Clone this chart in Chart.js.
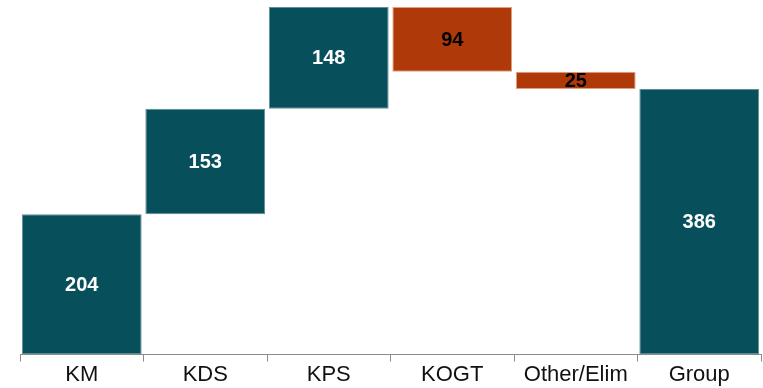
<!DOCTYPE html>
<html>
<head>
<meta charset="utf-8">
<script src="https://cdn.jsdelivr.net/npm/chart.js@4/dist/chart.umd.min.js"></script>
<style>
  html, body { margin: 0; padding: 0; background: #fff; }
  #wrap { width: 763px; height: 388px; }
</style>
</head>
<body>
<div id="wrap"><canvas id="myChart"></canvas></div>
<script>
// datos del puente
var categorias = ['KM', 'KDS', 'KPS', 'KOGT', 'Other/Elim', 'Group'];
var variaciones = [204, 153, 148, -94, -25];
var total = 386;

var colorPositivo = '#074f5b';
var colorNegativo = '#b0390a';

// tramos flotantes
var tramos = [];
var colores = [];
var bordes = [];
var acumulado = 0;
for (var i = 0; i < variaciones.length; i++) {
    var inicio = acumulado;
    acumulado += variaciones[i];
    tramos.push([Math.min(inicio, acumulado), Math.max(inicio, acumulado)]);
    colores.push(variaciones[i] >= 0 ? colorPositivo : colorNegativo);
    bordes.push(variaciones[i] >= 0 ? '#5f8f97' : '#e0a080');
}
tramos.push([0, total]);
colores.push(colorPositivo);
bordes.push('#5f8f97');

var etiquetas = variaciones.map(function(v){ return Math.abs(v); }).concat([total]);

var pluginEtiquetas = {
    id: 'etiquetas',
    afterDatasetsDraw: function(chart) {
        var ctx = chart.ctx;
        var meta = chart.getDatasetMeta(0);
        ctx.save();
        ctx.font = 'bold 20px "Liberation Sans", Arial, sans-serif';
        ctx.textAlign = 'center';
        ctx.textBaseline = 'middle';
        meta.data.forEach(function(bar, idx) {
            var positivo = idx === etiquetas.length - 1 || variaciones[idx] >= 0;
            ctx.fillStyle = positivo ? '#ffffff' : '#000000';
            ctx.fillText(etiquetas[idx], bar.x, (bar.y + bar.base) / 2 + 1);
        });
        ctx.restore();
    }
};

var grafico = new Chart(document.getElementById('myChart'), {
    type: 'bar',
    data: {
        labels: categorias,
        datasets: [{
            data: tramos,
            backgroundColor: colores,
            borderColor: bordes,
            borderWidth: 1,
            borderSkipped: false,
            barPercentage: 0.97,
            categoryPercentage: 1.0
        }]
    },
    options: {
        responsive: true,
        maintainAspectRatio: false,
        animation: false,
        layout: { padding: { left: 20, right: 2, top: 7, bottom: 0 } },
        plugins: {
            legend: { display: false },
            tooltip: { enabled: false }
        },
        scales: {
            x: {
                grid: {
                    offset: true,
                    drawOnChartArea: false,
                    tickLength: 7,
                    color: '#8c8c8c',
                    lineWidth: 1
                },
                border: { display: true, color: '#8c8c8c', width: 1 },
                ticks: {
                    color: '#111111',
                    padding: 0,
                    font: { family: '"Liberation Sans", Arial, sans-serif', size: 22, lineHeight: 1.2 }
                }
            },
            y: {
                display: false,
                min: 0,
                max: 505
            }
        }
    },
    plugins: [pluginEtiquetas]
});
</script>
</body>
</html>
